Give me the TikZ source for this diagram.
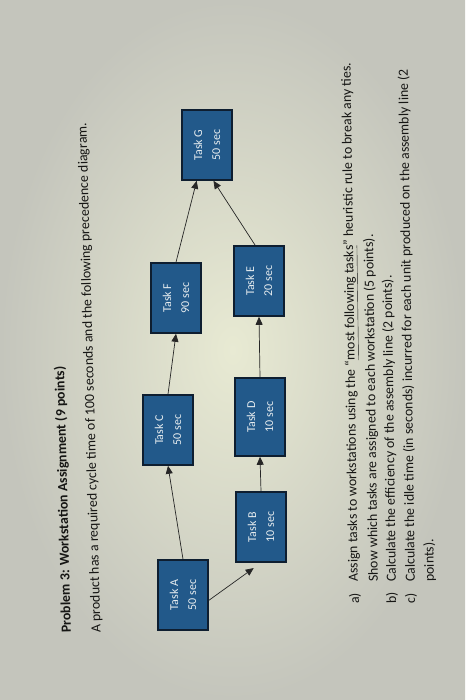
\documentclass[tikz,border=0pt]{standalone}
\usepackage{fontspec}
\setmainfont{Carlito}
\usetikzlibrary{arrows.meta,calc}
\definecolor{bgouter}{HTML}{C4C5BC}
\definecolor{bginner}{HTML}{E8EAD3}
\definecolor{boxfill}{HTML}{22598A}
\definecolor{boxedge}{HTML}{0E1E30}
\definecolor{boxtext}{HTML}{E6ECEF}
\definecolor{ink}{HTML}{161614}
\begin{document}
\begin{tikzpicture}[x=1pt,y=-1pt,
  task/.style={draw=boxedge, line width=1.6pt, fill=boxfill, text=boxtext,
    rotate=90, minimum width=70pt, minimum height=50pt, inner sep=0pt,
    align=center, font=\fontsize{12}{18}\selectfont},
  arr/.style={-{Triangle[length=8pt,width=7pt]}, line width=0.7pt, draw=black!85},
  txt/.style={anchor=west, inner sep=0pt, text=ink, font=\fontsize{13.9}{16}\selectfont}]
\useasboundingbox (0,0) rectangle (465,700);
\shade[inner color=bginner, outer color=bgouter] (0,0) rectangle (465,700);

% header text
\node[txt, rotate=91.5, font=\fontsize{13.9}{16}\selectfont\bfseries] (title) at (67,633) {Problem 3: Workstation Assignment (9 points)};
\node[txt, rotate=91.6] (intro) at (97,633) {A product has a required cycle time of 100 seconds and the following precedence diagram.};

% tasks
\node[task] (A) at (183,595) {Task A\\50 sec};
\node[task] (B) at (261,527) {Task B\\10 sec};
\node[task] (C) at (168,430) {Task C\\50 sec};
\node[task, minimum width=78pt] (D) at (260,417) {Task D\\10 sec};
\node[task] (F) at (176,298) {Task F\\90 sec};
\node[task] (E) at (259,281) {Task E\\20 sec};
\node[task] (G) at (207,145) {Task G\\50 sec};

% precedence arrows
\draw[arr, shorten >=9pt] ($(A.south)!0.15!(A.south west)$) -- (B.west);
\draw[arr] (A.east) -- (C.west);
\draw[arr] (B.east) -- (D.west);
\draw[arr] (C.east) -- (F.west);
\draw[arr] (D.east) -- (E.west);
\draw[arr] (F.east) -- ($(G.north west)!0.6!(G.west)$);
\draw[arr] ($(E.east)!0.15!(E.north east)$) -- ($(G.west)!0.25!(G.south west)$);

% questions
\node[txt, rotate=90.8] (qa) at (355,604) {a)};
\node[txt, rotate=90.8] (qatext) at (355,582) {Assign tasks to workstations using the “\underline{most following tasks}” heuristic rule to break any ties.};
\node[txt, rotate=90.8] (qashow) at (374,582) {Show which tasks are assigned to each workstation (5 points).};
\node[txt, rotate=90.8] (qb) at (392,604) {b)};
\node[txt, rotate=90.8] (qbtext) at (392,582) {Calculate the efficiency of the assembly line (2 points).};
\node[txt, rotate=90.8] (qc) at (411,604) {c)};
\node[txt, rotate=90.8] (qctext) at (411,582) {Calculate the idle time (in seconds) incurred for each unit produced on the assembly line (2};
\node[txt, rotate=90.8] (qcpts) at (430,582) {points).};
\end{tikzpicture}
\end{document}
